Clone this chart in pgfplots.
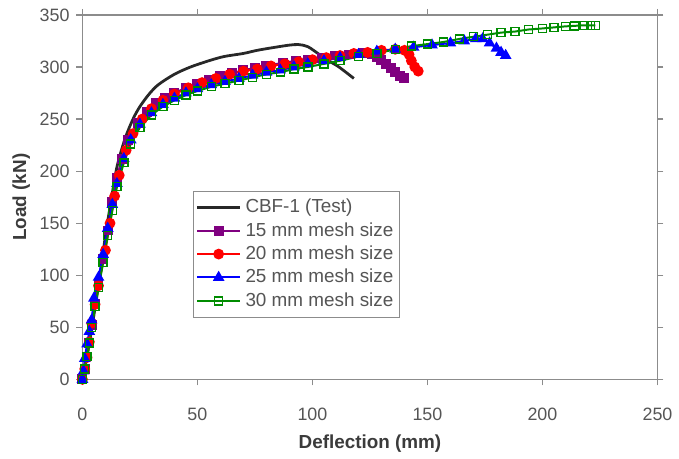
\documentclass[border=0pt]{standalone}
\usepackage{pgfplots}
\pgfplotsset{compat=1.18}
\usepackage{fontspec}
\setmainfont{Liberation Sans}

\definecolor{axgray}{RGB}{140,140,140}
\definecolor{txtgray}{RGB}{85,85,85}
\definecolor{testc}{RGB}{40,40,40}
\definecolor{mpurple}{RGB}{128,0,128}
\definecolor{mred}{RGB}{255,0,0}
\definecolor{mblue}{RGB}{0,0,255}
\definecolor{mgreen}{RGB}{0,140,0}

\begin{document}
\begin{tikzpicture}
  \begin{axis}[
    scale only axis,
    width=289.5pt, height=183.5pt,
    xmin=0, xmax=250, ymin=0, ymax=350,
    xtick={0,50,...,250},
    ytick={0,50,...,350},
    axis line style={axgray, line width=0.8pt},
    tick style={axgray, line width=0.6pt},
    tick align=outside,
    major tick length=3pt,
    ticklabel style={font=\fontsize{9}{10}\selectfont, text=txtgray},
    xticklabel style={yshift=-8pt},
    /pgf/number format/assume math mode=true,
    xlabel={\textbf{Deflection (mm)}},
    ylabel={\textbf{Load (kN)}},
    label style={font=\fontsize{9.5}{11}\selectfont, text=txtgray!70!black},
    xlabel style={yshift=0pt},
    ylabel style={yshift=-2pt},
    legend style={at={(0.193,0.518)}, anchor=north west,
      draw=axgray, font=\fontsize{9.5}{12}\selectfont, text=txtgray,
      inner xsep=1pt, inner ysep=2pt, row sep=-0.6pt},
    legend cell align=left,
    legend image code/.code={\draw[mark repeat=2,mark phase=2]
      plot coordinates {(0cm,0cm)(0.38cm,0cm)(0.76cm,0cm)};},
    clip=false,
  ]
  \coordinate (O) at (axis cs:0,0);
  % test curve
  \addplot[testc, line width=1.4pt, smooth, no markers] coordinates {
    (0,0)(2,22)(4,48)(6,76)(8,105)(10,138)(12.5,172)(15,204)(18.5,231)
    (22,250)(25,262)(29,274)(33,283)(40,293)(47,300)(55,306)(61.5,310)
    (70,313)(76,316)(84,319)(90,321)(94,321.5)(98,319.5)(103,312)
    (107,306)(111.5,300)(118,289)
  };
  % 15 mm
  \addplot[mpurple, line width=1pt, mark=square*, mark size=2pt] coordinates {
    (0,0)(1,10)(2,22)(3,35)(4,52)(5.5,72)(7,92)(9,116)(11,143)(13,170)
    (15,193)(17,212)(20,230)(24,246)(28,257)(32,265)(36,270)(40,275)
    (45,280)(50,284)(55,288)(60,291)(65,294)(70,297)(75,299)(80,301)
    (87,304)(93,306)(98,307)(104,309)(110,311)(116,312)(122,313)
    (126,312)(128,310)(130,307)(132,303)(134,299)(136,295)(138,291)(140,289)
  };
  % 20 mm
  \addplot[mred, line width=1pt, mark=*, mark size=2.2pt] coordinates {
    (0,0)(1,10)(2,21)(3,36)(4,54)(5.5,72)(7,90)(10,124)(12,150)(14,176)
    (16,196)(19,220)(22,236)(26,250)(30,260)(35,268)(40,274)(46,280)
    (52,285)(58,289)(64,293)(70,296)(76,298)(82,301)(88,303)(94,305)
    (100,307)(106,309)(112,311)(118,313)(124,314)(130,316)(136,317)
    (140,316)(142,312)(143,306)(144.5,300)(146,296)
  };
  % 25 mm
  \addplot[mblue, line width=1pt, mark=triangle*, mark size=2.4pt] coordinates {
    (0,0)(0.5,8)(1,20)(2,34)(3,46)(4,57)(5,78)(7,98)(9,120)(11,145)
    (13,168)(15,188)(18,212)(21,230)(25,245)(30,256)(35,264)(40,270)
    (45,275)(50,279)(56,283)(62,286)(68,289)(74,292)(80,295)(86,297)
    (92,300)(98,303)(105,306)(112,309)(120,312)(128,315)(136,317)
    (144,319)(152,321)(160,323)(166,325)(171,327)(174,327)(177,323)
    (180,318)(182,314)(184,311)
  };
  % 30 mm
  \addplot[mgreen, line width=1pt, mark=square, mark size=2pt,
    mark options={line width=0.7pt}] coordinates {
    (0,0)(1,10)(2,22)(3,35)(4,50)(5.5,70)(7,88)(9,112)(11,138)(13,162)
    (15,185)(18,208)(21,226)(25,242)(30,254)(35,262)(40,268)(45,273)
    (50,277)(56,281)(62,284)(68,287)(74,290)(80,293)(86,295)(92,298)
    (98,300)(105,303)(112,306)(120,310)(128,313)(136,317)(143,320)
    (150,322)(157,324)(164,327)(170,329)(176,331)(182,333)(188,334)
    (194,336)(200,337)(205,338)(210,339)(214,339.5)(218,340)(221,340)(223,340)
  };
  \legend{CBF-1 (Test),15 mm mesh size,20 mm mesh size,25 mm mesh size,30 mm mesh size}
  \draw[axgray, line width=0.8pt] (rel axis cs:0,1) -- (rel axis cs:1,1) -- (rel axis cs:1,0);
  \end{axis}
  \path (O) ++(-41.5pt,-35pt) rectangle ++(339.5pt,226pt);
\end{tikzpicture}
\end{document}
